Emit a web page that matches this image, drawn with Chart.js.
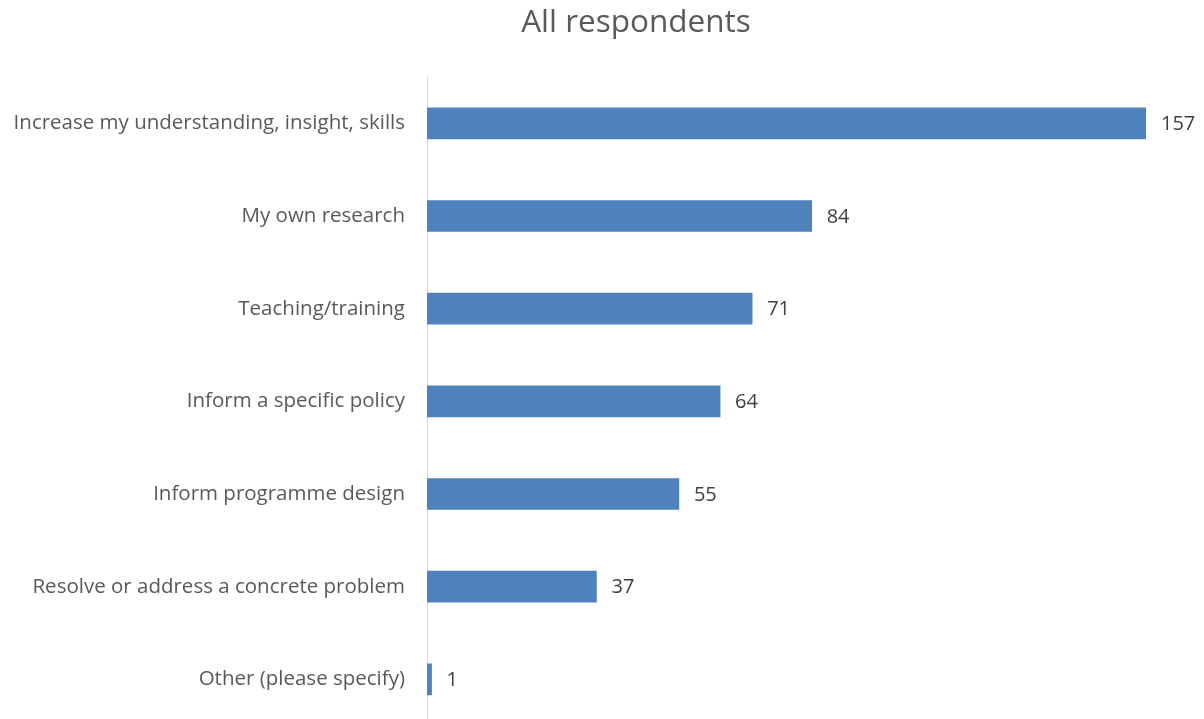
<!DOCTYPE html>
<html>
<head>
<meta charset="utf-8">
<title>All respondents</title>
<script src="https://cdn.jsdelivr.net/npm/chart.js@4/dist/chart.umd.min.js"></script>
<style>
  html, body { margin: 0; padding: 0; background: #fff; overflow: hidden; }
</style>
</head>
<body>
<canvas id="respondentsChart" width="1204" height="760"></canvas>
<script>
const categories = [
  'Increase my understanding, insight, skills',
  'My own research',
  'Teaching/training',
  'Inform a specific policy',
  'Inform programme design',
  'Resolve or address a concrete problem',
  'Other (please specify)'
]
const respondents = [157, 84, 71, 64, 55, 37, 1]
const chartTitle = 'All respondents'

const FONT = '"Open Sans", Lato, sans-serif'

/**
 * Draw the value at the end of each bar, and the title.
 */
const valueLabels = {
  id: 'valueLabels',
  afterDatasetsDraw (chart) {
    const { ctx } = chart
    const meta = chart.getDatasetMeta(0)
    ctx.save()
    ctx.font = '20px ' + FONT
    ctx.fillStyle = '#404040'
    ctx.textAlign = 'left'
    ctx.textBaseline = 'middle'
    meta.data.forEach((bar, i) => {
      ctx.fillText(String(chart.data.datasets[0].data[i]), bar.x + 15, bar.y + 1)
    })

    // title sits a bit right of the canvas centre, like the original
    ctx.font = '31.5px ' + FONT
    ctx.fillStyle = '#595959'
    ctx.textAlign = 'center'
    ctx.fillText(chartTitle, 636, 23)
    ctx.restore()
  }
}

document.addEventListener('DOMContentLoaded', () => {
  const ctx = document.getElementById('respondentsChart').getContext('2d')

  window.myChart = new Chart(ctx, {
    type: 'bar',
    data: {
      labels: categories,
      datasets: [{
        data: respondents,
        backgroundColor: '#4f81bd',
        borderWidth: 0,
        barThickness: 31
      }]
    },
    plugins: [valueLabels],
    options: {
      indexAxis: 'y',
      responsive: false,
      animation: false,
      layout: { padding: { left: 0, right: 58, top: 77, bottom: 0 } },
      plugins: {
        legend: { display: false },
        tooltip: { enabled: false },
        title: { display: false }
      },
      scales: {
        x: {
          display: false,
          min: 0,
          max: 157
        },
        y: {
          afterFit (scale) { scale.width = 427 },
          border: { display: true, color: '#d9d9d9', width: 1 },
          grid: { display: false, drawTicks: false },
          ticks: {
            color: '#595959',
            padding: 22,
            font: { family: FONT, size: 20.5 }
          }
        }
      }
    }
  })
})
</script>
</body>
</html>
